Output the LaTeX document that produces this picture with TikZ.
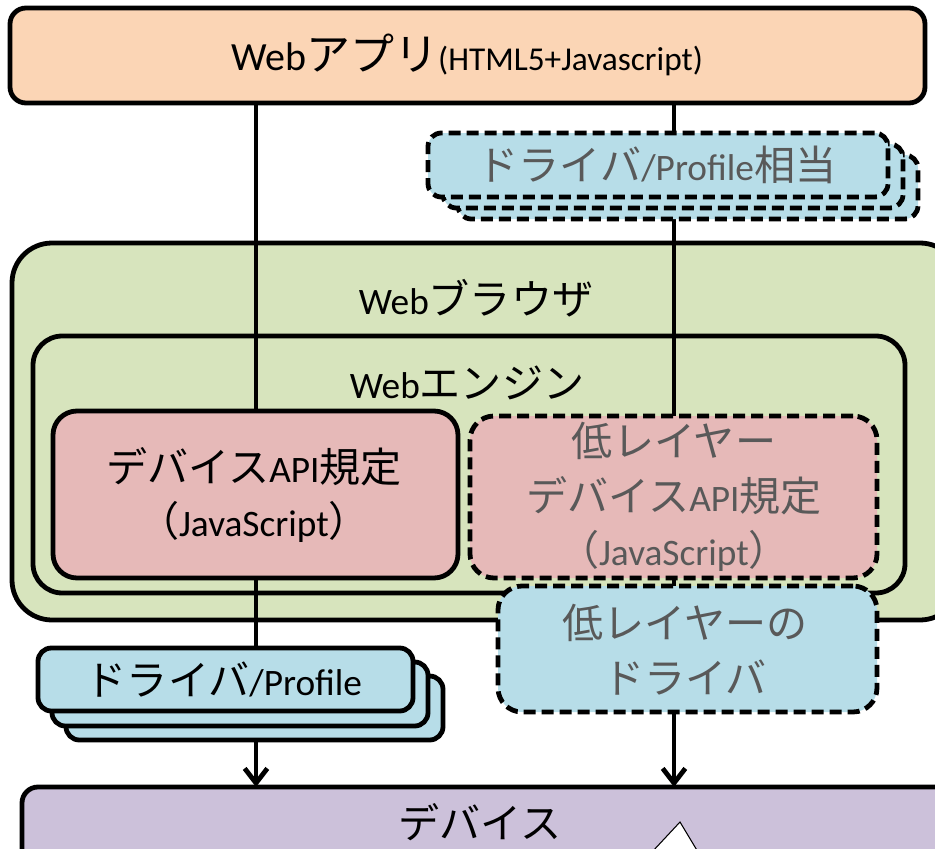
\documentclass[tikz,border=0pt]{standalone}
\usepackage{fontspec}
\setmainfont{Carlito}
\newfontfamily\jpf[Scale=1.1]{Noto Sans CJK JP}
\usetikzlibrary{arrows.meta}

\definecolor{appfill}{HTML}{FBD5B5}
\definecolor{drvfill}{HTML}{B7DDE8}
\definecolor{brwfill}{HTML}{D7E4BD}
\definecolor{apifill}{HTML}{E6B9B8}
\definecolor{devfill}{HTML}{CCC1DA}
\definecolor{dimtext}{HTML}{595959}

\tikzset{
  % box given by its corners (x1,y1,x2,y2) in pixel units
  span/.style n args={4}{
    at={({(#1+#3)/2},{(#2+#4)/2})},
    minimum width={(#3-#1)*0.75pt},
    minimum height={(#4-#2)*0.75pt}},
  frame/.style={draw=black, line width=3.6pt, rounded corners=#1,
    inner sep=0pt, outer sep=0pt},
  dashframe/.style={frame=#1, dash pattern=on 9pt off 4.5pt},
  big/.style={font=\fontsize{28}{41}\selectfont, align=center},
  flow/.style={line width=3.6pt,
    -{Straight Barb[length=11pt,width=17pt,line width=3.6pt]}},
}

\begin{document}
\begin{tikzpicture}[x=0.75pt, y=-0.75pt]
\useasboundingbox (0,0) rectangle (935,849);
\clip (0,0) rectangle (935,849);

% browser and engine frames
\node[frame=30pt, fill=brwfill, span={12}{243}{960}{620}] (browser) {};
\node[frame=22pt, fill=brwfill, span={33}{336}{905}{593}] (engine) {};
\node[big] (browsertxt) at (476,298) {Web{\jpf ブラウザ}};
\node[big] (enginetxt) at (467,383) {Web{\jpf エンジン}};

% web application
\node[frame=12pt, fill=appfill, span={10}{8}{925}{103}] (app) {};
\node[font=\fontsize{30}{36}\selectfont] (apptxt) at (467,55)
  {Web{\jpf アプリ}{\fontsize{25}{30}\selectfont (HTML5+Javascript)}};

% device
\node[frame=12pt, fill=devfill, span={22}{787}{980}{900}] (dev) {};

% reference columns for the two connectors
\coordinate (apiref) at (256,494);
\coordinate (lowref) at (674,494);

% connectors from the application down to the device
\draw[flow] (app.south -| apiref) -- (dev.north -| apiref);
\draw[flow] (app.south -| lowref) -- (dev.north -| lowref);

% driver/profile stack, top right
\node[dashframe=10pt, fill=drvfill, span={458}{155}{918}{219}] (tdrv3) {};
\node[dashframe=10pt, fill=drvfill, span={443}{144}{903}{208}] (tdrv2) {};
\node[dashframe=10pt, fill=drvfill, span={428}{133}{888}{197}] (tdrv1) {};
\node[big, text=dimtext] (tdrvtxt) at (657,165) {{\jpf ドライバ}/Profile{\jpf 相当}};

% device API specification
\node[frame=18pt, fill=apifill, span={53}{411}{458}{578}] (api) {};
\node[big] (apitxt) at (254,495)
  {{\jpf デバイス}API{\jpf 規定}\\{\jpf （}JavaScript{\jpf ）}};

% low-layer device API specification
\node[dashframe=18pt, fill=apifill, span={470}{416}{877}{578}] (lowapi) {};
\node[big, text=dimtext] (lowapitxt) at (674,497)
  {{\jpf 低レイヤー}\\{\jpf デバイス}API{\jpf 規定}\\{\jpf （}JavaScript{\jpf ）}};

% low-layer driver
\node[dashframe=18pt, fill=drvfill, span={498}{586}{877}{712}] (lowdrv) {};
\node[big, text=dimtext] (lowdrvtxt) at (685,650)
  {{\jpf 低レイヤーの}\\{\jpf ドライバ}};

% driver/profile stack, bottom left
\node[frame=10pt, fill=drvfill, span={66}{676}{443}{740}] (bdrv3) {};
\node[frame=10pt, fill=drvfill, span={52}{662}{428}{726}] (bdrv2) {};
\node[frame=10pt, fill=drvfill, span={38}{648}{413}{711}] (bdrv1) {};
\node[big] (bdrvtxt) at (224,680) {{\jpf ドライバ}/Profile};

% device label and notch
\node[big] (devtxt) at (480,822) {{\jpf デバイス}};
\draw[fill=white, line width=0.8pt] (652,852) -- (680,822) -- (698,852);
\end{tikzpicture}
\end{document}
